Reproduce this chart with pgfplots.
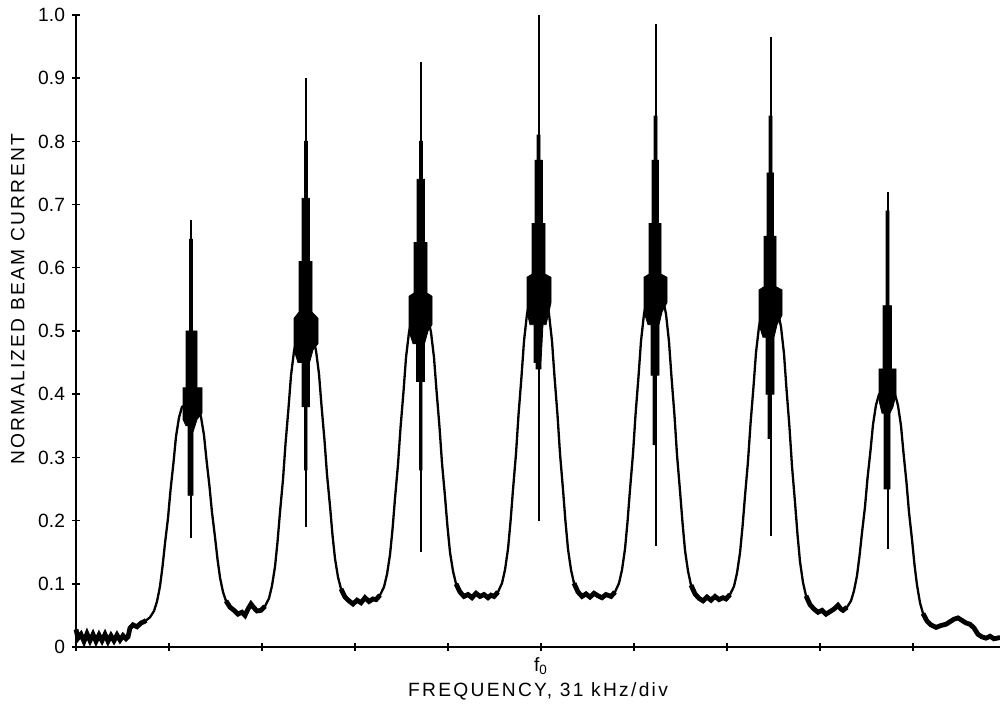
\documentclass[border=0pt]{standalone}
\usepackage{pgfplots}
\usepackage{pgfplotstable}
\pgfplotsset{compat=1.18}
\usepackage{fontspec}
\setmainfont{Liberation Sans}
\newfontfamily\lblfont[LetterSpace=12]{Liberation Sans}

% beam current trace, x in reference pixels (93 px = 1 div, f0 at 541)
\pgfplotstableread{
x y
76 0.028
78 0.014
81 0.020
84 0.009
87 0.021
90 0.010
93 0.020
96 0.009
99 0.019
102 0.010
105 0.020
108 0.009
111 0.018
114 0.010
117 0.019
120 0.011
123 0.018
126 0.013
128 0.016
130 0.030
133 0.035
137 0.032
141 0.038
144 0.040
146 0.042
150 0.047
154 0.057
157 0.072
160 0.096
162.5 0.127
165 0.164
168 0.204
170.5 0.248
173.5 0.292
176 0.333
179 0.363
182 0.380
190 0.385
198 0.380
201 0.364
204 0.335
206.5 0.296
209.5 0.254
212 0.213
215 0.174
217.5 0.139
220 0.110
223 0.087
226 0.073
230 0.063
234 0.058
238 0.052
242 0.055
245 0.050
248 0.060
251 0.068
254 0.062
257 0.057
261 0.058
265 0.0645
269 0.077
272 0.097
275 0.127
277.5 0.166
280 0.2135
283 0.265
285.5 0.3215
288.5 0.378
291 0.4295
294 0.468
297 0.490
305 0.495
313 0.490
316 0.469
319 0.432
321.5 0.382
324.5 0.327
327 0.273
330 0.223
332.5 0.177
335 0.140
338 0.1105
341 0.092
345 0.079
349 0.073
353 0.068
357 0.074
361 0.070
365 0.078
369 0.072
373 0.076
376 0.075
380 0.082
384 0.095
387 0.115
390 0.146
392.5 0.186
395 0.235
398 0.289
400.5 0.3465
403.5 0.404
406 0.458
409 0.498
412 0.520
420 0.525
428 0.520
431 0.498
434 0.458
436.5 0.406
439.5 0.348
442 0.291
445 0.238
447.5 0.190
450 0.150
453 0.120
456 0.100
460 0.087
464 0.080
468 0.083
472 0.078
476 0.085
480 0.080
484 0.083
488 0.078
491 0.082
494 0.080
498 0.087
502 0.101
505 0.122
508 0.155
510.5 0.198
513 0.249
516 0.306
518.5 0.367
521.5 0.428
524 0.484
527 0.527
530 0.550
538 0.555
546 0.550
549 0.527
552 0.484
554.5 0.428
557.5 0.367
560 0.306
563 0.249
565.5 0.198
568 0.155
571 0.122
574 0.101
578 0.087
582 0.080
586 0.084
590 0.079
594 0.085
598 0.081
602 0.078
606 0.083
611 0.080
615 0.087
619 0.101
622 0.122
625 0.155
627.5 0.198
630 0.249
633 0.306
635.5 0.367
638.5 0.428
641 0.484
644 0.527
647 0.550
655 0.555
663 0.550
666 0.527
669 0.483
671.5 0.427
674.5 0.366
677 0.304
680 0.247
682.5 0.197
685 0.153
688 0.120
691 0.098
695 0.084
699 0.077
703 0.073
707 0.079
711 0.074
715 0.080
719 0.075
723 0.078
726 0.076
730 0.083
734 0.096
737 0.117
740 0.149
742.5 0.190
745 0.239
748 0.294
750.5 0.353
753.5 0.412
756 0.466
759 0.507
762 0.530
770 0.535
778 0.530
781 0.5065
784 0.464
786.5 0.408
789.5 0.347
792 0.286
795 0.229
797.5 0.178
800 0.135
803 0.102
806 0.081
810 0.067
814 0.060
818 0.055
822 0.058
826 0.052
830 0.056
834 0.060
838 0.066
841 0.060
843 0.058
847 0.063
851 0.073
854 0.089
857 0.113
859.5 0.144
862 0.181
865 0.222
867.5 0.267
870.5 0.311
873 0.352
876 0.383
879 0.400
887 0.405
895 0.400
898 0.382
901 0.350
903.5 0.307
906.5 0.260
909 0.213
912 0.170
914.5 0.130
917 0.098
920 0.070
923 0.053
927 0.041
931 0.035
936 0.031
941 0.034
946 0.036
950 0.040
954 0.044
958 0.046
962 0.042
966 0.038
970 0.036
974 0.030
978 0.020
982 0.016
986 0.014
990 0.017
994 0.013
1000 0.015
}\trace

\begin{document}
\begin{tikzpicture}
\useasboundingbox (-38pt,-29.5pt) rectangle (462pt,323.5pt);
\begin{axis}[
  scale only axis, width=462pt, height=316pt,
  xmin=76, xmax=1000, ymin=0, ymax=1,
  axis lines*=left, clip=false,
  axis line style={line width=0.7pt},
  xtick={76,169,262,355,448,541,634,727,820,913},
  xticklabels={,,,,,f\textsubscript{0},,,,},
  ytick={0,0.1,0.2,0.3,0.4,0.5,0.6,0.7,0.8,0.9,1.0},
  yticklabels={0,0.1,0.2,0.3,0.4,0.5,0.6,0.7,0.8,0.9,1.0},
  tick align=center, major tick length=4pt,
  tick style={black, line width=0.7pt},
  tick label style={font=\fontsize{9.6}{11}\selectfont},
  label style={font=\lblfont\fontsize{9.6}{11}\selectfont},
  xlabel={FREQUENCY, 31 kHz/div},
  ylabel={NORMALIZED BEAM CURRENT},
  ylabel style={at={(ticklabel cs:0.55)}},
  xlabel style={yshift=3pt},
]
% trace
\addplot[black, line width=1.15pt] table {\trace};
% noisy flat stretches between the resonances
\pgfplotsinvokeforeach{76:146, 226:265, 341:380, 456:498, 574:615, 691:730, 806:847, 923:1000}{
  \addplot[black, line width=2.4pt, restrict x to domain=#1] table {\trace};
}
% dense noise around each line centre
\addplot[fill=black, draw=black, line width=0.4pt] coordinates {(189.5,0.645)(189.5,0.50)(186,0.50)(186,0.41)(183,0.41)(183,0.36)(186,0.35)(188,0.35)(188,0.24)(193,0.24)(193,0.34)(197,0.36)(202,0.37)(202,0.41)(197,0.41)(197,0.50)(192.5,0.50)(192.5,0.645)} -- cycle;
\addplot[fill=black, draw=black, line width=0.4pt] coordinates {(304.5,0.80)(304.5,0.71)(302,0.71)(302,0.61)(299,0.61)(299,0.53)(294,0.52)(294,0.47)(298,0.45)(302,0.45)(302,0.38)(304.5,0.38)(304.5,0.28)(307,0.28)(307,0.38)(309.5,0.38)(309.5,0.45)(313,0.47)(318,0.48)(318,0.52)(312,0.53)(312,0.61)(309.5,0.61)(309.5,0.71)(307.5,0.71)(307.5,0.80)} -- cycle;
\addplot[fill=black, draw=black, line width=0.4pt] coordinates {(419.5,0.80)(419.5,0.74)(417,0.74)(417,0.64)(414,0.64)(414,0.56)(409,0.555)(409,0.50)(413,0.48)(416.5,0.48)(416.5,0.42)(419.5,0.42)(419.5,0.28)(422,0.28)(422,0.42)(424.5,0.42)(424.5,0.48)(428,0.50)(432,0.51)(432,0.555)(427,0.56)(427,0.64)(424.5,0.64)(424.5,0.74)(422.5,0.74)(422.5,0.80)} -- cycle;
\addplot[fill=black, draw=black, line width=0.4pt] coordinates {(537,0.81)(537,0.77)(535,0.77)(535,0.67)(532,0.67)(532,0.59)(527,0.585)(527,0.53)(530,0.51)(534,0.51)(534,0.45)(536,0.45)(536,0.44)(541,0.44)(541,0.45)(543,0.51)(546,0.51)(549,0.53)(551,0.545)(551,0.585)(545,0.59)(545,0.67)(542.5,0.67)(542.5,0.77)(540,0.77)(540,0.81)} -- cycle;
\addplot[fill=black, draw=black, line width=0.4pt] coordinates {(654,0.84)(654,0.77)(652,0.77)(652,0.67)(649,0.67)(649,0.59)(644,0.585)(644,0.53)(648,0.51)(651,0.51)(651,0.43)(653,0.43)(653,0.32)(656,0.32)(656,0.43)(659,0.43)(659,0.51)(662,0.53)(667,0.545)(667,0.585)(661,0.59)(661,0.67)(658.5,0.67)(658.5,0.77)(657,0.77)(657,0.84)} -- cycle;
\addplot[fill=black, draw=black, line width=0.4pt] coordinates {(769,0.84)(769,0.75)(767,0.75)(767,0.65)(764,0.65)(764,0.57)(759,0.565)(759,0.51)(763,0.49)(766,0.49)(766,0.40)(768,0.40)(768,0.33)(771,0.33)(771,0.40)(774,0.40)(774,0.49)(777,0.51)(782,0.525)(782,0.565)(776,0.57)(776,0.65)(773.5,0.65)(773.5,0.75)(772,0.75)(772,0.84)} -- cycle;
\addplot[fill=black, draw=black, line width=0.4pt] coordinates {(886,0.69)(886,0.54)(883,0.54)(883,0.44)(879,0.44)(879,0.39)(882,0.37)(884,0.37)(884,0.25)(890,0.25)(890,0.37)(893,0.38)(896,0.40)(896,0.44)(891.5,0.44)(891.5,0.54)(889,0.54)(889,0.69)} -- cycle;
% full extent of the fluctuation at each line
\addplot[black, line width=1pt] coordinates {(191,0.172) (191,0.675)};
\addplot[black, line width=1pt] coordinates {(306,0.19) (306,0.90)};
\addplot[black, line width=1pt] coordinates {(421,0.15) (421,0.925)};
\addplot[black, line width=1pt] coordinates {(538.5,0.20) (538.5,1.0)};
\addplot[black, line width=1pt] coordinates {(655.5,0.16) (655.5,0.985)};
\addplot[black, line width=1pt] coordinates {(770.5,0.175) (770.5,0.965)};
\addplot[black, line width=1pt] coordinates {(887.5,0.155) (887.5,0.72)};
\end{axis}
\end{tikzpicture}
\end{document}
